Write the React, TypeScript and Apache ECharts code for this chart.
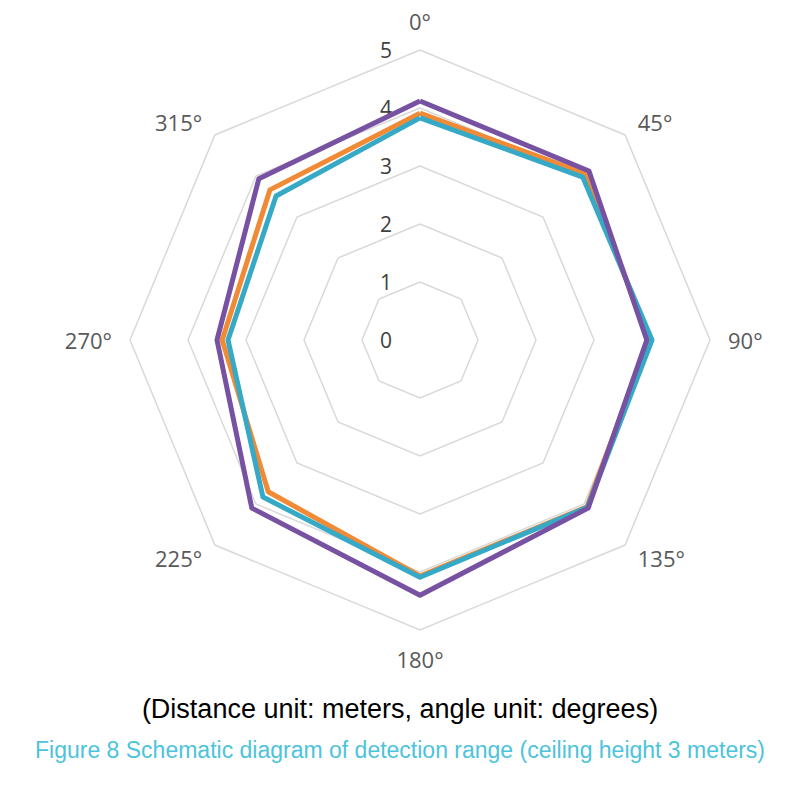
import React, { useEffect, useRef } from "react";
import * as echarts from "echarts";

const angles = ["0°", "45°", "90°", "135°", "180°", "225°", "270°", "315°"];
const orangeValues = [3.91, 4.05, 3.95, 4.07, 4.07, 3.7, 3.41, 3.66];
const tealValues = [3.83, 3.97, 4.0, 4.08, 4.09, 3.83, 3.31, 3.51];
const purpleValues = [4.12, 4.12, 3.91, 4.1, 4.4, 4.1, 3.5, 3.93];
const maxValue = 5;
const subtitle = "(Distance unit: meters, angle unit: degrees)";
const caption = "Figure 8 Schematic diagram of detection range (ceiling height 3 meters)";

// ECharts radar runs counter-clockwise; list the angles in reverse to draw clockwise
const order = angles.map((_, i) => (angles.length - i) % angles.length);
const reorder = <T,>(arr: T[]) => order.map((i) => arr[i]);

export default function App() {
  const ref = useRef<HTMLDivElement>(null);
  useEffect(() => {
    if (!ref.current) return;
    const chart = echarts.init(ref.current, null, { renderer: "svg" });
    const lineSeries = (name: string, values: number[], color: string) => ({
      name,
      value: reorder(values),
      symbol: "none",
      lineStyle: { color, width: 5 },
      itemStyle: { color },
    });
    chart.setOption({
      animation: false,
      backgroundColor: "#ffffff",
      title: [
        {
          text: subtitle,
          left: "center",
          top: 690,
          textStyle: { fontFamily: "Liberation Sans", fontSize: 27, fontWeight: "normal", color: "#000000" },
        },
        {
          text: caption,
          left: "center",
          top: 733,
          textStyle: { fontFamily: "Liberation Sans", fontSize: 23, fontWeight: "normal", color: "#4dc3dc" },
        },
      ],
      radar: {
        center: [420, 340],
        radius: 290,
        startAngle: 90,
        shape: "polygon",
        splitNumber: 5,
        nameGap: 18,
        axisName: { color: "#595959", fontSize: 22, fontFamily: "Open Sans" },
        axisLine: { show: false },
        axisTick: { show: false },
        splitArea: { show: false },
        splitLine: { lineStyle: { color: "#d9d9d9", width: 1.5 } },
        axisLabel: { show: false },
        indicator: reorder(angles).map((a, i) => ({
          name: a,
          min: 0,
          max: maxValue,
          axisLabel:
            i === 0
              ? { show: true, color: "#404040", fontSize: 21, fontFamily: "Open Sans", margin: 28 }
              : { show: false },
        })),
      },
      series: [
        {
          type: "radar",
          data: [
            lineSeries("A", orangeValues, "#f08a35"),
            lineSeries("B", tealValues, "#35a9c6"),
            lineSeries("C", purpleValues, "#7751a2"),
          ],
        },
      ],
    });
    return () => chart.dispose();
  }, []);
  return <div ref={ref} style={{ position: "fixed", left: 0, top: 0, width: 800, height: 800 }} />;
}
